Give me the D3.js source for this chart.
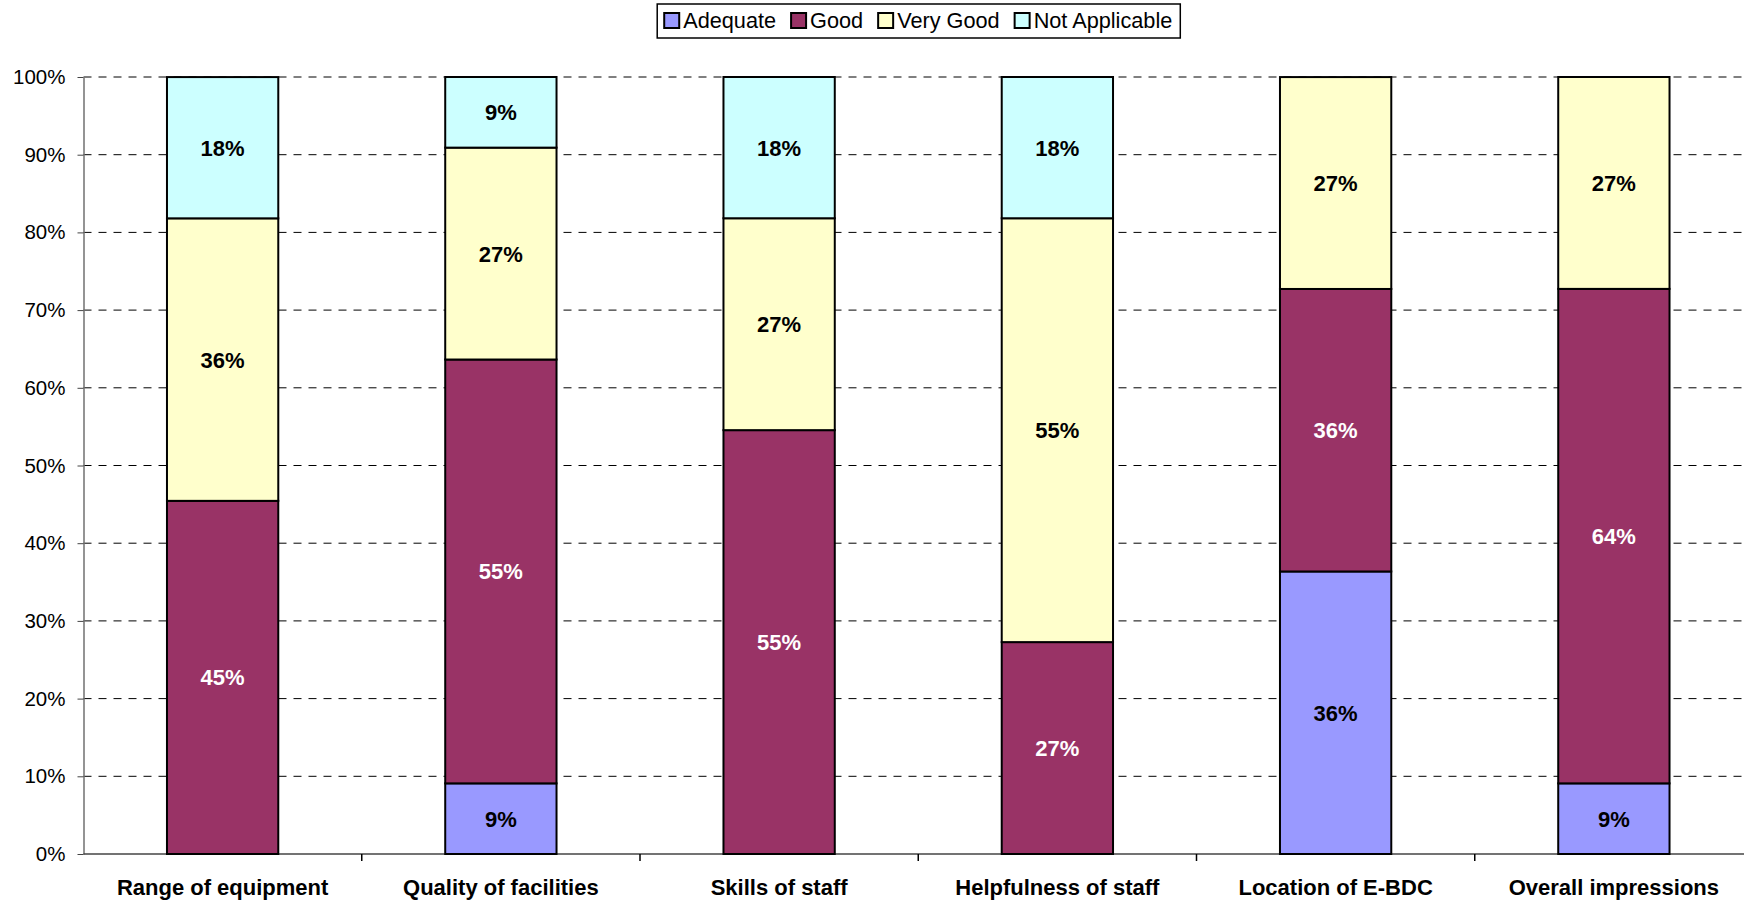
<!DOCTYPE html>
<html>
<head>
<meta charset="utf-8">
<script src="https://cdn.jsdelivr.net/npm/d3@7"></script>
<style>
  body { margin: 0; background: #fff; }
  svg { display: block; font-family: "Liberation Sans", Arial, sans-serif; }
</style>
</head>
<body>
<svg id="chart"></svg>
<script>
// data (11 respondents, so values are n/11 in %)
let categories = ["Range of equipment", "Quality of facilities", "Skills of staff",
                  "Helpfulness of staff", "Location of E-BDC", "Overall impressions"];
let seriesNames = ["Adequate", "Good", "Very Good", "Not Applicable"];
let adequate = [0, 9.09, 0, 0, 36.36, 9.09];
let good = [45.45, 54.55, 54.55, 27.27, 36.36, 63.64];
let veryGood = [36.36, 27.27, 27.27, 54.55, 27.27, 27.27];
let notApplicable = [18.18, 9.09, 18.18, 18.18, 0, 0];
let yTicks = [0, 10, 20, 30, 40, 50, 60, 70, 80, 90, 100];

let colors = ["#9999ff", "#993366", "#ffffcc", "#ccffff"];
let labelColors = ["#000", "#fff", "#000", "#000"];

let width = 1744, height = 904;
let margin = ({top: 77, right: -9, bottom: 50, left: 83.5});

let rows = categories.map((c, i) => ({
  name: c, "Adequate": adequate[i], "Good": good[i],
  "Very Good": veryGood[i], "Not Applicable": notApplicable[i]
}));
let stacked = d3.stack().keys(seriesNames)(rows);

let x = d3.scaleBand()
  .domain(categories)
  .range([margin.left, width - margin.right])
  .paddingInner(0.6)
  .paddingOuter(0.3);

let y = d3.scaleLinear()
  .domain([0, 100])
  .range([height - margin.bottom, margin.top]);

const svg = d3.select('#chart').attr('width', width).attr('height', height);

// dashed gridlines
svg.append('g')
  .selectAll('line')
  .data(yTicks.filter(d => d > 0))
  .join('line')
  .attr('x1', margin.left)
  .attr('x2', width)
  .attr('y1', d => y(d))
  .attr('y2', d => y(d))
  .attr('stroke', '#000')
  .attr('stroke-width', 1)
  .attr('stroke-dasharray', '8,7');

// y axis
let yAxis = g => g
  .attr("transform", `translate(${margin.left},0)`)
  .call(d3.axisLeft(y).tickValues(yTicks).tickFormat(d => d + "%").tickSize(6).tickPadding(12).tickSizeOuter(0))
  .call(g => g.select(".domain").attr("stroke", "#707070").attr("stroke-width", 1.5))
  .call(g => g.selectAll(".tick line").attr("stroke", "#444"))
  .call(g => g.selectAll(".tick text").attr("font-size", 20.5).attr("fill", "#000")
    .attr("font-family", '"Liberation Sans", Arial, sans-serif'));
svg.append('g').call(yAxis);

// x axis: ticks at category boundaries
let step = x.step();
let boundaries = categories.map(c => x(c) + x.bandwidth() + step * 0.3);
svg.append('line')
  .attr('x1', margin.left).attr('x2', width)
  .attr('y1', y(0)).attr('y2', y(0))
  .attr('stroke', '#444').attr('stroke-width', 1.5);
svg.append('g')
  .selectAll('line')
  .data(boundaries)
  .join('line')
  .attr('x1', d => d).attr('x2', d => d)
  .attr('y1', y(0)).attr('y2', y(0) + 7)
  .attr('stroke', '#000').attr('stroke-width', 1.5);

svg.append('g')
  .selectAll('text')
  .data(categories)
  .join('text')
  .attr('x', d => x(d) + x.bandwidth() / 2)
  .attr('y', 895)
  .attr('text-anchor', 'middle')
  .attr('font-size', 22)
  .attr('font-weight', 'bold')
  .attr('fill', '#000')
  .text(d => d);

// bars
const layers = svg.append('g')
  .selectAll('g')
  .data(stacked)
  .join('g')
  .attr('fill', (d, i) => colors[i]);

layers.selectAll('rect')
  .data(d => d.filter(p => p[1] - p[0] > 0))
  .join('rect')
  .attr('x', d => x(d.data.name))
  .attr('y', d => y(d[1]))
  .attr('width', x.bandwidth())
  .attr('height', d => y(d[0]) - y(d[1]))
  .attr('stroke', '#000')
  .attr('stroke-width', 2);

// value labels
stacked.forEach((layer, i) => {
  svg.append('g')
    .selectAll('text')
    .data(layer.filter(p => p[1] - p[0] > 0))
    .join('text')
    .attr('x', d => x(d.data.name) + x.bandwidth() / 2)
    .attr('y', d => (y(d[0]) + y(d[1])) / 2 + 8)
    .attr('text-anchor', 'middle')
    .attr('font-size', 22)
    .attr('font-weight', 'bold')
    .attr('fill', labelColors[i])
    .text(d => Math.round(d[1] - d[0]) + "%");
});

// legend
const legend = svg.append('g');
const box = legend.append('rect')
  .attr('fill', '#fff').attr('stroke', '#000').attr('stroke-width', 1.5);
let cx = 0;
seriesNames.forEach((name, i) => {
  const g = legend.append('g').attr('transform', `translate(${cx},0)`);
  g.append('rect')
    .attr('x', 0).attr('y', 13).attr('width', 15).attr('height', 15)
    .attr('fill', colors[i]).attr('stroke', '#000').attr('stroke-width', 2);
  const t = g.append('text')
    .attr('x', 19).attr('y', 28)
    .attr('font-size', 21.7)
    .attr('fill', '#000')
    .text(name);
  cx += 19 + t.node().getComputedTextLength() + 15;
});
let legendW = cx - 15;
let lx = (margin.left + 1753) / 2 - legendW / 2;
legend.attr('transform', `translate(${lx},0)`);
box.attr('x', -7).attr('y', 4).attr('width', legendW + 15).attr('height', 34);
</script>
</body>
</html>
